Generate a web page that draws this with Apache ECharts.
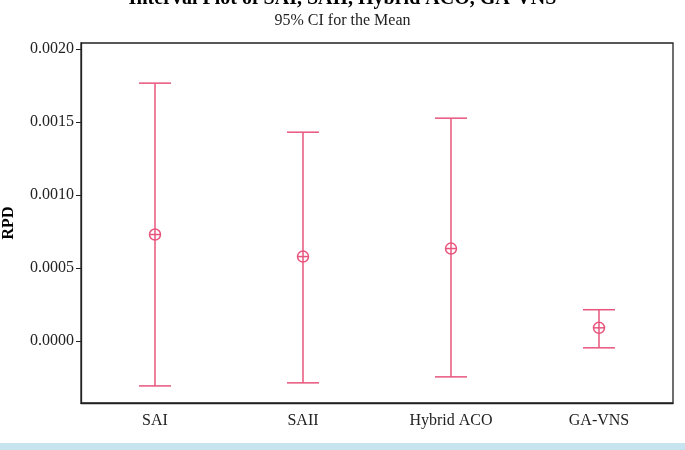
<!DOCTYPE html>
<html>
<head>
<meta charset="utf-8">
<script src="https://cdn.jsdelivr.net/npm/echarts@6/dist/echarts.min.js"></script>
<style>
  html, body { margin: 0; padding: 0; background: #fff; }
  #main { width: 685px; height: 450px; }
</style>
</head>
<body>
<div id="main"></div>
<script>
var categories = ['SAI', 'SAII', 'Hybrid ACO', 'GA-VNS'];
var lowerCI = [-0.000309, -0.000288, -0.000247, -0.000048];
var means = [0.000728, 0.000577, 0.000632, 0.000089];
var upperCI = [0.001765, 0.001429, 0.001525, 0.000213];
var yTicks = [0, 0.0005, 0.001, 0.0015, 0.002];

var chartDom = document.getElementById('main');
var myChart = echarts.init(chartDom);
var option;

var lineColor = '#e8557d';
var font = 'Liberation Serif';

var data = categories.map(function (c, i) {
  return [i, lowerCI[i], means[i], upperCI[i]];
});

function renderInterval(params, api) {
  var x = api.value(0);
  var lo = api.coord([x, api.value(1)]);
  var mid = api.coord([x, api.value(2)]);
  var hi = api.coord([x, api.value(3)]);
  var half = 16;
  var r = 5.5;
  var style = { stroke: lineColor, lineWidth: 1.5, fill: null };
  return {
    type: 'group',
    children: [
      { type: 'line', shape: { x1: hi[0], y1: hi[1], x2: lo[0], y2: lo[1] }, style: style },
      { type: 'line', shape: { x1: hi[0] - half, y1: hi[1], x2: hi[0] + half, y2: hi[1] }, style: style },
      { type: 'line', shape: { x1: lo[0] - half, y1: lo[1], x2: lo[0] + half, y2: lo[1] }, style: style },
      { type: 'circle', shape: { cx: mid[0], cy: mid[1], r: r }, style: { stroke: lineColor, lineWidth: 1.5, fill: '#fff' } },
      { type: 'line', shape: { x1: mid[0] - r, y1: mid[1], x2: mid[0] + r, y2: mid[1] }, style: style },
      { type: 'line', shape: { x1: mid[0], y1: mid[1] - r, x2: mid[0], y2: mid[1] + r }, style: style }
    ]
  };
}

option = {
  animation: false,
  title: {
    text: 'Interval Plot of SAI, SAII, Hybrid ACO, GA-VNS',
    subtext: '95% CI for the Mean',
    left: 'center',
    top: -16,
    itemGap: 4,
    textStyle: { fontFamily: font, fontSize: 20, fontWeight: 'bold', color: '#000' },
    subtextStyle: { fontFamily: font, fontSize: 16, color: '#222' }
  },
  grid: {
    left: 81,
    right: 12,
    top: 43,
    bottom: 47,
    outerBoundsMode: 'none',
    containLabel: false,
    show: true,
    borderColor: '#222',
    borderWidth: 1.3
  },
  xAxis: {
    type: 'category',
    data: categories,
    axisLine: { onZero: false, lineStyle: { color: '#222', width: 1.3 } },
    axisTick: { alignWithLabel: true, length: 5, lineStyle: { color: '#222' } },
    axisLabel: { fontFamily: font, fontSize: 16, color: '#222', margin: 10 }
  },
  yAxis: {
    type: 'value',
    name: 'RPD',
    nameLocation: 'middle',
    nameGap: 64,
    nameTextStyle: { fontFamily: font, fontSize: 16, fontWeight: 'bold', color: '#000' },
    min: -0.000426,
    max: 0.00204,
    splitLine: { show: false },
    axisLine: { show: true, lineStyle: { color: '#222', width: 1.3 } },
    axisTick: { show: true, length: 5, customValues: yTicks, lineStyle: { color: '#222' } },
    axisLabel: {
      fontFamily: font,
      fontSize: 16,
      color: '#222',
      margin: 7,
      customValues: yTicks,
      formatter: function (v) { return v.toFixed(4); }
    }
  },
  graphic: [
    {
      type: 'rect',
      left: 0,
      bottom: 0,
      shape: { width: 685, height: 7 },
      style: { fill: '#c6e4ef' }
    }
  ],
  series: [
    {
      type: 'custom',
      renderItem: renderInterval,
      encode: { x: 0, y: [1, 2, 3] },
      data: data
    }
  ]
};

option && myChart.setOption(option);
</script>
</body>
</html>
